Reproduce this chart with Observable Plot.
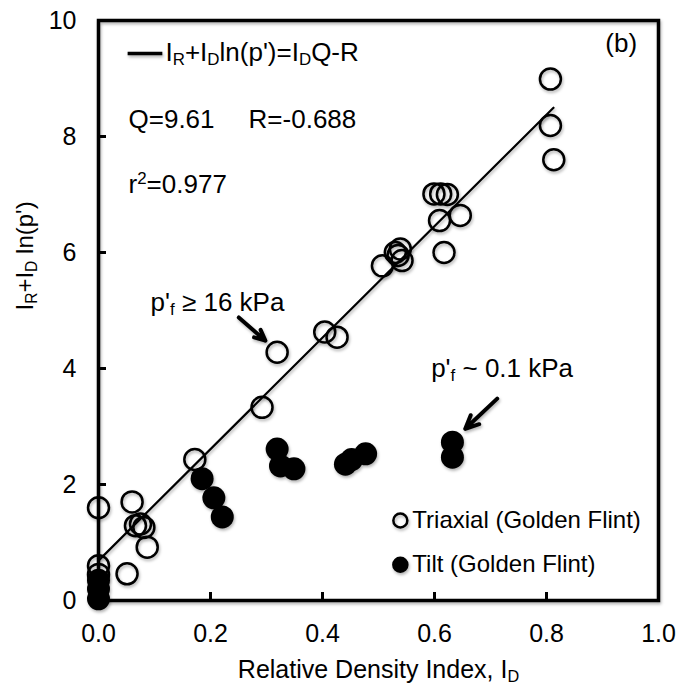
<!DOCTYPE html>
<html><head><meta charset="utf-8">
<script src="https://cdn.jsdelivr.net/npm/d3@7"></script>
<script src="https://cdn.jsdelivr.net/npm/@observablehq/plot@0.6"></script>
<style>body{margin:0;background:#fff}</style>
</head><body><div id="chart"></div>
<script>
// ---- data ----
const triaxialID = [0.807,0.807,0.813,0.599,0.611,0.623,0.646,0.609,0.617,0.539,0.530,0.542,0.535,0.507,0.404,0.426,0.319,0.292,0.172,0.000,0.000,0.000,0.051,0.060,0.066,0.075,0.081,0.087];
const triaxialIR = [8.99,8.19,7.60,7.01,7.01,7.00,6.64,6.55,6.00,6.06,6.00,5.86,5.95,5.77,4.63,4.54,4.28,3.33,2.43,1.60,0.60,0.45,0.46,1.70,1.29,1.32,1.26,0.92];
const tiltID = [0.000,0.000,0.000,0.185,0.206,0.221,0.319,0.325,0.349,0.441,0.452,0.477,0.632,0.632];
const tiltIR = [0.03,0.20,0.35,2.10,1.77,1.44,2.61,2.32,2.27,2.35,2.43,2.53,2.73,2.47];
const Q = 9.61, R = -0.688, r2 = 0.977;
const fitExtent = [0, 0.8125];
const xTicks = [0, 0.2, 0.4, 0.6, 0.8, 1.0];
const yTicks = [0, 2, 4, 6, 8, 10];
const xTitle = "Relative Density Index, I_{D}";
const yTitle = "I_{R}+I_{D} ln(p')";
const eqLabel = "I_{R}+I_{D}ln(p')=I_{D}Q-R";
const seriesNames = ["Triaxial (Golden Flint)", "Tilt (Golden Flint)"];
const annoHigh = "p'_{f} ≥ 16 kPa";
const annoLow = "p'_{f} ~ 0.1 kPa";

// ---- tables ----
const triaxial = triaxialID.map((x, i) => ({x, y: triaxialIR[i]}));
const tilt = tiltID.map((x, i) => ({x, y: tiltIR[i]}));
const fit = fitExtent.map(x => ({x, y: Q * x - R}));

// ---- layout (positions of annotations in data units) ----
const W = 681, H = 690, mL = 98, mR = 23, mT = 20, mB = 90;
const pw = W - mL - mR, ph = H - mT - mB;
const FONT = "Liberation Sans, Arial, sans-serif";
const texts = [
  {x: 0.1196, y: 9.31, t: eqLabel},
  {x: 0.0536, y: 8.14, t: `Q=${Q}`},
  {x: 0.268, y: 8.14, t: `R=${R}`},
  {x: 0.0536, y: 7.03, t: `r^{2}=${r2}`},
  {x: 0.905, y: 9.45, t: "(b)"},
  {x: 0.093, y: 5.0, t: annoHigh},
  {x: 0.594, y: 3.85, t: annoLow}
];
const arrows = [
  {x1: 0.2505, y1: 4.88, x2: 0.298, y2: 4.48},
  {x1: 0.712, y1: 3.48, x2: 0.655, y2: 2.96}
];
const legendKey = [{x1: 0.052, x2: 0.114, y: 9.43}];
const legend = [
  {x: 0.539, y: 1.38, name: seriesNames[0], fill: "none"},
  {x: 0.539, y: 0.616, name: seriesNames[1], fill: "black"}
];

const chart = Plot.plot({
  width: W, height: H,
  marginLeft: mL, marginRight: mR, marginTop: mT, marginBottom: mB,
  style: {fontFamily: FONT, fontSize: "25px", color: "black", background: "white"},
  x: {domain: [0, 1]},
  y: {domain: [0, 10]},
  marks: [
    Plot.axisX({ticks: xTicks, tickSize: 0, tickPadding: 24, tickFormat: d3.format(".1f"), label: null, fontSize: 25}),
    Plot.axisY({ticks: yTicks, tickSize: 0, tickPadding: 22, tickFormat: d3.format("d"), label: null, fontSize: 25}),
    Plot.tickX(xTicks.slice(1, -1), {x: d => d, insetTop: ph - 8, stroke: "black", strokeWidth: 3}),
    Plot.tickY(yTicks.slice(1, -1), {y: d => d, insetRight: pw - 8, stroke: "black", strokeWidth: 3}),
    Plot.line(fit, {x: "x", y: "y", stroke: "black", strokeWidth: 2.2}),
    Plot.dot(triaxial, {x: "x", y: "y", r: 10.5, fill: "none", stroke: "black", strokeWidth: 2.5}),
    Plot.dot(tilt, {x: "x", y: "y", r: 11.5, fill: "black", stroke: "none"}),
    Plot.link(legendKey, {x1: "x1", x2: "x2", y1: "y", y2: "y", stroke: "black", strokeWidth: 3.5}),
    Plot.arrow(arrows, {x1: "x1", y1: "y1", x2: "x2", y2: "y2", stroke: "black", strokeWidth: 4, headLength: 15, headAngle: 50, bend: 0}),
    Plot.text(texts, {x: "x", y: "y", text: "t", textAnchor: "start", lineAnchor: "bottom", fontSize: 26, fill: "black"}),
    Plot.dot(legend, {x: "x", y: "y", r: 7, fill: "fill", stroke: "black", strokeWidth: 2.5}),
    Plot.text(legend, {x: "x", y: "y", text: "name", textAnchor: "start", lineAnchor: "middle", dx: 12, fontSize: 24, fill: "black"}),
    Plot.text([xTitle], {frameAnchor: "bottom", dy: 69, lineAnchor: "middle", fontSize: 25, fill: "black"}),
    Plot.text([yTitle], {frameAnchor: "left", dx: -73, rotate: -90, lineAnchor: "middle", fontSize: 24, fill: "black"}),
    Plot.frame({stroke: "black", strokeWidth: 3.5})
  ]
});

// rich text: _{sub} and ^{sup}
const NS = "http://www.w3.org/2000/svg";
chart.querySelectorAll("text").forEach(t => {
  const s = t.textContent;
  if (!/[_^]\{/.test(s)) return;
  while (t.firstChild) t.removeChild(t.firstChild);
  const re = /([_^])\{([^}]*)\}/g;
  let last = 0, m;
  while ((m = re.exec(s))) {
    if (m.index > last) t.appendChild(document.createTextNode(s.slice(last, m.index)));
    const ts = document.createElementNS(NS, "tspan");
    ts.setAttribute("baseline-shift", m[1] === "_" ? "-22%" : "super");
    ts.setAttribute("font-size", "65%");
    ts.textContent = m[2];
    t.appendChild(ts);
    last = re.lastIndex;
  }
  if (last < s.length) t.appendChild(document.createTextNode(s.slice(last)));
});
// soft shadow on graphic marks like the reference
chart.querySelectorAll('g[aria-label="dot"], g[aria-label="line"], g[aria-label="link"], g[aria-label="arrow"], [aria-label="frame"]').forEach(g => {
  g.style.filter = "drop-shadow(1px 2px 1.5px rgba(0,0,0,0.3))";
});
document.getElementById("chart").appendChild(chart);
</script>
</body></html>
